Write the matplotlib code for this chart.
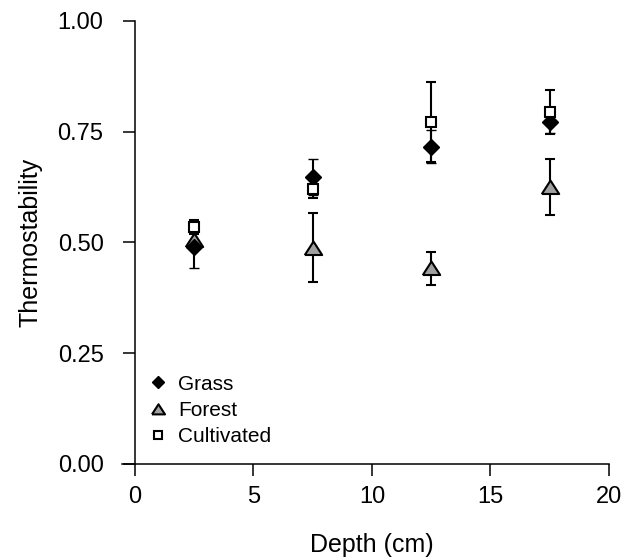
import matplotlib.pyplot as plt

plt.rcParams['font.family'] = ['Liberation Sans', 'DejaVu Sans']

depth = [2.5, 7.5, 12.5, 17.5]

grass = [0.490, 0.648, 0.716, 0.772]
grass_err = [0.048, 0.040, 0.037, 0.025]

forest = [0.506, 0.488, 0.442, 0.625]
forest_err = [0.020, 0.078, 0.037, 0.063]

cultivated = [0.535, 0.621, 0.772, 0.795]
cultivated_err = [0.016, 0.020, 0.090, 0.050]

# wide, flat triangle like the original
tri = [(-1, -0.75), (1, -0.75), (0, 0.8), (-1, -0.75)]

fig = plt.figure(figsize=(6.24, 5.58), dpi=100)
ax = fig.add_axes([0.2163, 0.1685, 0.7596, 0.7939])

ax.errorbar(depth, grass, yerr=grass_err, fmt="D", color="black", mfc="black",
            mec="black", ms=8.5, mew=1, capsize=3.5, elinewidth=1.5, capthick=1.5,
            label="Grass")
ax.errorbar(depth, forest, yerr=forest_err, fmt="none", ecolor="black",
            capsize=3.5, elinewidth=1.5, capthick=1.5)
ax.plot(depth, forest, linestyle="none", marker=tri, mfc="#a0a0a0", mec="black",
        ms=12.5, mew=1.5, label="Forest")
ax.errorbar(depth, cultivated, yerr=cultivated_err, fmt="s", color="black", mfc="white",
            mec="black", ms=7.5, mew=1.5, capsize=3.5, elinewidth=1.5, capthick=1.5,
            label="Cultivated")

ax.set_xlim(0, 20)
ax.set_ylim(0, 1.0)
ax.set_xticks([0, 5, 10, 15, 20])
ax.set_yticks([0, 0.25, 0.5, 0.75, 1.0])
ax.set_yticklabels(["0.00", "0.25", "0.50", "0.75", "1.00"])
ax.spines["top"].set_visible(False)
ax.spines["right"].set_visible(False)
ax.spines["left"].set_linewidth(1.1)
ax.spines["bottom"].set_linewidth(1.1)
ax.spines["bottom"].set_bounds(-0.53, 20)
ax.tick_params(direction="out", length=8.6, width=1.1, labelsize=17)
ax.tick_params(axis="x", pad=7)
ax.tick_params(axis="y", pad=14)

ax.set_xlabel("Depth (cm)", fontsize=18, labelpad=18)
ax.set_ylabel("Thermostability", fontsize=18, labelpad=11)

handles, labels = ax.get_legend_handles_labels()
handles = [h[0] if hasattr(h, "lines") else h for h in handles]
order = [labels.index(n) for n in ["Grass", "Forest", "Cultivated"]]
handles = [handles[i] for i in order]
labels = [labels[i] for i in order]
ax.legend(handles, labels, loc="lower left", frameon=False, fontsize=15,
          markerscale=0.75, handlelength=1.0, handletextpad=0.46, labelspacing=0.35,
          borderpad=0.4, bbox_to_anchor=(-0.012, -0.002))

fig.savefig("out.png", dpi=100)
